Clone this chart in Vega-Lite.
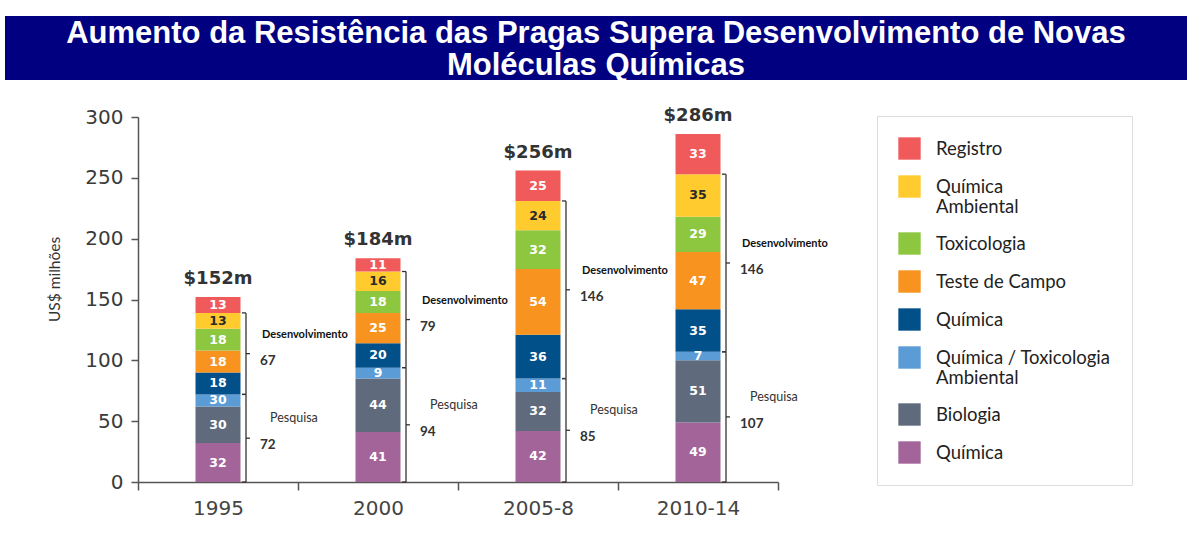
{
  "$schema": "https://vega.github.io/schema/vega-lite/v6.json",
  "padding": {"left": 5, "top": 16, "right": 0, "bottom": 0},
  "background": "white",
  "bounds": "flush",
  "spacing": 37,
  "datasets": {
    "titleLines": [
      {"line": 1, "text": "Aumento da Resistência das Pragas Supera Desenvolvimento de Novas"},
      {"line": 2, "text": "Moléculas Químicas"}
    ],
    "bars": [
      {"year": "1995", "cat": "Química (pesquisa)", "order": 1, "value": 32, "label": "32"},
      {"year": "1995", "cat": "Biologia", "order": 2, "value": 30, "label": "30"},
      {"year": "1995", "cat": "Química / Toxicologia Ambiental", "order": 3, "value": 10, "label": "30"},
      {"year": "1995", "cat": "Química (desenvolvimento)", "order": 4, "value": 18, "label": "18"},
      {"year": "1995", "cat": "Teste de Campo", "order": 5, "value": 18, "label": "18"},
      {"year": "1995", "cat": "Toxicologia", "order": 6, "value": 18, "label": "18"},
      {"year": "1995", "cat": "Química Ambiental", "order": 7, "value": 13, "label": "13"},
      {"year": "1995", "cat": "Registro", "order": 8, "value": 13, "label": "13"},
      {"year": "2000", "cat": "Química (pesquisa)", "order": 1, "value": 41, "label": "41"},
      {"year": "2000", "cat": "Biologia", "order": 2, "value": 44, "label": "44"},
      {"year": "2000", "cat": "Química / Toxicologia Ambiental", "order": 3, "value": 9, "label": "9"},
      {"year": "2000", "cat": "Química (desenvolvimento)", "order": 4, "value": 20, "label": "20"},
      {"year": "2000", "cat": "Teste de Campo", "order": 5, "value": 25, "label": "25"},
      {"year": "2000", "cat": "Toxicologia", "order": 6, "value": 18, "label": "18"},
      {"year": "2000", "cat": "Química Ambiental", "order": 7, "value": 16, "label": "16"},
      {"year": "2000", "cat": "Registro", "order": 8, "value": 11, "label": "11"},
      {"year": "2005-8", "cat": "Química (pesquisa)", "order": 1, "value": 42, "label": "42"},
      {"year": "2005-8", "cat": "Biologia", "order": 2, "value": 32, "label": "32"},
      {"year": "2005-8", "cat": "Química / Toxicologia Ambiental", "order": 3, "value": 11, "label": "11"},
      {"year": "2005-8", "cat": "Química (desenvolvimento)", "order": 4, "value": 36, "label": "36"},
      {"year": "2005-8", "cat": "Teste de Campo", "order": 5, "value": 54, "label": "54"},
      {"year": "2005-8", "cat": "Toxicologia", "order": 6, "value": 32, "label": "32"},
      {"year": "2005-8", "cat": "Química Ambiental", "order": 7, "value": 24, "label": "24"},
      {"year": "2005-8", "cat": "Registro", "order": 8, "value": 25, "label": "25"},
      {"year": "2010-14", "cat": "Química (pesquisa)", "order": 1, "value": 49, "label": "49"},
      {"year": "2010-14", "cat": "Biologia", "order": 2, "value": 51, "label": "51"},
      {"year": "2010-14", "cat": "Química / Toxicologia Ambiental", "order": 3, "value": 7, "label": "7"},
      {"year": "2010-14", "cat": "Química (desenvolvimento)", "order": 4, "value": 35, "label": "35"},
      {"year": "2010-14", "cat": "Teste de Campo", "order": 5, "value": 47, "label": "47"},
      {"year": "2010-14", "cat": "Toxicologia", "order": 6, "value": 29, "label": "29"},
      {"year": "2010-14", "cat": "Química Ambiental", "order": 7, "value": 35, "label": "35"},
      {"year": "2010-14", "cat": "Registro", "order": 8, "value": 33, "label": "33"}
    ],
    "totals": [
      {"year": "1995", "total": 152, "label": "$152m"},
      {"year": "2000", "total": 184, "label": "$184m"},
      {"year": "2005-8", "total": 256, "label": "$256m"},
      {"year": "2010-14", "total": 286, "label": "$286m"}
    ],
    "brackets": [
      {"year": "1995", "phase": "Pesquisa", "y0": 0, "y1": 72, "mid": 36, "amount": "72"},
      {"year": "1995", "phase": "Desenvolvimento", "y0": 72, "y1": 139, "mid": 105.5, "amount": "67"},
      {"year": "2000", "phase": "Pesquisa", "y0": 0, "y1": 94, "mid": 47, "amount": "94"},
      {"year": "2000", "phase": "Desenvolvimento", "y0": 94, "y1": 173, "mid": 133.5, "amount": "79"},
      {"year": "2005-8", "phase": "Pesquisa", "y0": 0, "y1": 85, "mid": 42.5, "amount": "85"},
      {"year": "2005-8", "phase": "Desenvolvimento", "y0": 85, "y1": 231, "mid": 158, "amount": "146"},
      {"year": "2010-14", "phase": "Pesquisa", "y0": 0, "y1": 107, "mid": 53.5, "amount": "107"},
      {"year": "2010-14", "phase": "Desenvolvimento", "y0": 107, "y1": 253, "mid": 180, "amount": "146"}
    ]
  },
  "vconcat": [
    {
      "width": 1182,
      "height": 64,
      "view": {"fill": "#000080", "stroke": null},
      "data": {"name": "titleLines"},
      "mark": {"type": "text", "font": "Liberation Sans", "fontWeight": "bold", "fontSize": 31, "color": "white", "baseline": "middle", "align": "center", "dy": 2},
      "encoding": {
        "y": {"field": "line", "type": "ordinal", "axis": null, "scale": {"type": "point", "padding": 0.5}},
        "text": {"field": "text"}
      }
    },
    {
      "width": 773,
      "height": 365,
      "view": {"stroke": null},
      "encoding": {
        "x": {
          "field": "year",
          "type": "nominal",
          "sort": ["1995", "2000", "2005-8", "2010-14"],
          "scale": {"range": [133, 773], "paddingInner": 0, "paddingOuter": 0},
          "axis": {"title": null, "labelAngle": 0, "labelFont": "DejaVu Sans", "labelFontSize": 20, "labelColor": "#444444", "labelPadding": 8, "tickBand": "extent", "tickSize": 8, "tickColor": "#555555", "tickWidth": 1.5, "domainColor": "#555555", "domainWidth": 1.5}
        }
      },
      "layer": [
        {
          "data": {"name": "bars"},
          "mark": {"type": "bar", "width": 45},
          "encoding": {
            "y": {
              "field": "value",
              "type": "quantitative",
              "stack": "zero",
              "scale": {"domain": [0, 300], "nice": false},
              "axis": {"title": "US$ milhões", "offset": -133, "values": [0, 50, 100, 150, 200, 250, 300], "grid": false, "labelFont": "DejaVu Sans", "labelFontSize": 20, "labelColor": "#3a3a3a", "labelPadding": 8, "tickSize": 7, "tickColor": "#555555", "tickWidth": 1.5, "domainColor": "#555555", "domainWidth": 1.5, "titleFont": "Lato", "titleFontSize": 15.5, "titleFontWeight": "normal", "titleColor": "#333333", "titlePadding": 22, "titleY": 162}
            },
            "color": {
              "field": "cat",
              "type": "nominal",
              "scale": {
                "domain": ["Registro", "Química Ambiental", "Toxicologia", "Teste de Campo", "Química (desenvolvimento)", "Química / Toxicologia Ambiental", "Biologia", "Química (pesquisa)"],
                "range": ["#F05A5B", "#FFCB2F", "#8DC63F", "#F7931E", "#02508A", "#5B9BD6", "#5F6B7D", "#A3649A"]
              },
              "legend": {
                "orient": "none",
                "legendX": 872,
                "legendY": 100,
                "title": null,
                "symbolType": "square",
                "symbolSize": 500,
                "symbolStrokeWidth": 0,
                "symbolOpacity": 1,
                "labelFont": "Lato",
                "labelFontSize": 18.5,
                "labelColor": "#222222",
                "labelOffset": 15,
                "labelLimit": 260,
                "rowPadding": 15,
                "padding": 21,
                "strokeColor": "#dddddd",
                "fillColor": "white",
                "labelExpr": "datum.label == 'Química Ambiental' ? ['Química', 'Ambiental'] : datum.label == 'Química / Toxicologia Ambiental' ? ['Química / Toxicologia', 'Ambiental'] : (datum.label == 'Química (pesquisa)' || datum.label == 'Química (desenvolvimento)') ? 'Química' : datum.label"
              }
            },
            "order": {"field": "order", "type": "quantitative"}
          }
        },
        {
          "data": {"name": "bars"},
          "mark": {"type": "text", "font": "DejaVu Sans", "fontWeight": "bold", "fontSize": 12.5, "baseline": "middle", "align": "center"},
          "encoding": {
            "y": {"field": "value", "type": "quantitative", "stack": "zero", "bandPosition": 0.5},
            "detail": {"field": "cat"},
            "order": {"field": "order", "type": "quantitative"},
            "text": {"field": "label"},
            "color": {"condition": {"test": "datum.cat === 'Química Ambiental'", "value": "#2a2a2a"}, "value": "white"}
          }
        },
        {
          "data": {"name": "totals"},
          "mark": {"type": "text", "font": "DejaVu Sans", "fontWeight": "bold", "fontSize": 18, "color": "#333333", "baseline": "middle", "dy": -18},
          "encoding": {
            "y": {"field": "total", "type": "quantitative"},
            "text": {"field": "label"}
          }
        },
        {
          "data": {"name": "brackets"},
          "mark": {"type": "rule", "xOffset": 28, "color": "#333333", "strokeWidth": 1.3},
          "encoding": {
            "y": {"field": "y0", "type": "quantitative"},
            "y2": {"field": "y1"}
          }
        },
        {
          "data": {"name": "brackets"},
          "mark": {"type": "rule", "xOffset": 24, "x2Offset": 28, "color": "#333333", "strokeWidth": 1.3},
          "encoding": {
            "x2": {"field": "year"},
            "y": {"field": "y1", "type": "quantitative"}
          }
        },
        {
          "data": {"name": "brackets"},
          "mark": {"type": "rule", "xOffset": 24, "x2Offset": 28, "color": "#333333", "strokeWidth": 1.3},
          "encoding": {
            "x2": {"field": "year"},
            "y": {"field": "y0", "type": "quantitative"}
          }
        },
        {
          "data": {"name": "brackets"},
          "mark": {"type": "rule", "xOffset": 28, "x2Offset": 32, "color": "#333333", "strokeWidth": 1.3},
          "encoding": {
            "x2": {"field": "year"},
            "y": {"field": "mid", "type": "quantitative"}
          }
        },
        {
          "data": {"name": "brackets"},
          "mark": {"type": "text", "font": "Lato", "fontWeight": "bold", "fontSize": 13.5, "color": "#333333", "align": "left", "baseline": "middle", "dx": 42, "dy": 7},
          "encoding": {
            "y": {"field": "mid", "type": "quantitative"},
            "text": {"field": "amount"}
          }
        },
        {
          "data": {"name": "brackets"},
          "transform": [{"filter": "datum.phase == 'Desenvolvimento'"}],
          "mark": {"type": "text", "font": "Lato", "fontWeight": "bold", "fontSize": 11, "color": "#111111", "align": "left", "baseline": "middle", "dx": 44, "dy": -19},
          "encoding": {
            "y": {"field": "mid", "type": "quantitative"},
            "text": {"field": "phase"}
          }
        },
        {
          "data": {"name": "brackets"},
          "transform": [{"filter": "datum.phase == 'Pesquisa'"}],
          "mark": {"type": "text", "font": "Lato", "fontSize": 12.5, "color": "#333333", "align": "left", "baseline": "middle", "dx": 52, "dy": -20},
          "encoding": {
            "y": {"field": "mid", "type": "quantitative"},
            "text": {"field": "phase"}
          }
        }
      ]
    }
  ],
  "config": {
    "font": "Lato",
    "view": {"stroke": null}
  }
}
